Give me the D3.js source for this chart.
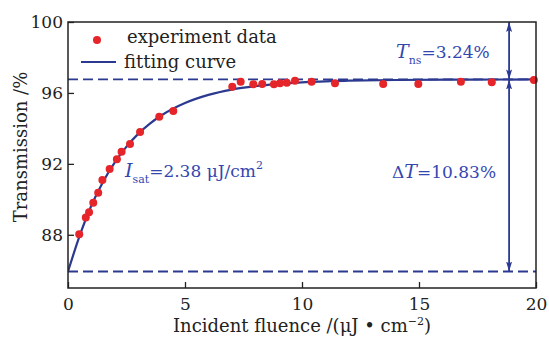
<!DOCTYPE html>
<html>
<head>
<meta charset="utf-8">
<script src="https://cdn.jsdelivr.net/npm/d3@7"></script>
<style>
  body { margin: 0; background: #fff; }
</style>
</head>
<body>
<svg id="chart" width="549" height="340"></svg>
<script>
// measured points (incident fluence, µJ/cm²)
const fluence = [0.48, 0.76, 0.90, 1.08, 1.29, 1.47, 1.78, 2.09, 2.29, 2.65, 3.08, 3.90, 4.50,
  7.02, 7.38, 7.92, 8.30, 8.80, 9.06, 9.35, 9.70, 10.41, 11.41, 13.47, 14.97, 16.79, 18.11, 19.91];
const transmission = [88.03, 88.98, 89.27, 89.81, 90.37, 91.09, 91.71, 92.26, 92.68, 93.12, 93.80, 94.66, 94.98,
  96.35, 96.63, 96.49, 96.50, 96.49, 96.54, 96.58, 96.69, 96.63, 96.54, 96.50, 96.50, 96.63, 96.60, 96.73];

// fitting curve
const fitFluence = [0, 0.5, 1, 1.5, 2, 2.5, 3, 3.5, 4, 5, 6, 7, 8, 9, 10, 12, 14, 17, 20];
const fitTransmission = [85.93, 87.95, 89.65, 90.99, 92.08, 92.97, 93.69, 94.27, 94.74, 95.43, 95.89, 96.19,
  96.38, 96.51, 96.60, 96.69, 96.73, 96.75, 96.76];

const xTicks = [0, 5, 10, 15, 20];
const yTicks = [88, 92, 96, 100];

const levelHigh = 96.76;   // saturated transmission
const levelLow = 85.93;    // linear transmission
const arrowAt = 18.85;

const blue = "#2b3990";
const textBlue = "#3347b0";
const red = "#e5252a";
const serif = "DejaVu Serif";

const svg = d3.select("#chart").attr("font-family", serif);
const margin = {top: 22, right: 13, bottom: 52, left: 68};
const width = 549 - margin.left - margin.right;
const height = 340 - margin.top - margin.bottom;

const x = d3.scaleLinear().domain([0, 20]).range([0, width]);
const y = d3.scaleLinear().domain([85, 100]).range([height, 0]);

const defs = svg.append("defs");
defs.append("clipPath").attr("id", "plot-clip")
  .append("rect").attr("width", width).attr("height", height);
defs.append("marker")
  .attr("id", "arrowhead")
  .attr("markerUnits", "userSpaceOnUse")
  .attr("viewBox", "0 0 10 6")
  .attr("refX", 10).attr("refY", 3)
  .attr("markerWidth", 10).attr("markerHeight", 6)
  .attr("orient", "auto-start-reverse")
  .append("path")
  .attr("d", "M0,0 L10,3 L0,6 L2,3 Z")
  .attr("fill", blue);

const g = svg.append("g").attr("transform", `translate(${margin.left},${margin.top})`);

// axes with inward ticks
const yAxis = g.append("g")
  .call(d3.axisLeft(y).tickValues(yTicks).tickSizeInner(-6).tickSizeOuter(0).tickPadding(5));
const xAxis = g.append("g").attr("transform", `translate(0,${height})`)
  .call(d3.axisBottom(x).tickValues(xTicks).tickSizeInner(-6).tickSizeOuter(0).tickPadding(10));
[xAxis, yAxis].forEach(a => {
  a.attr("font-family", serif).attr("font-size", 17);
  a.select(".domain").remove();
  a.selectAll("text").attr("fill", "#222");
  a.selectAll("line").attr("stroke", "#222").attr("stroke-width", 1.3);
});

const plot = g.append("g").attr("clip-path", "url(#plot-clip)");

// dashed reference levels
[levelHigh, levelLow].forEach(v => {
  plot.append("line")
    .attr("x1", 0).attr("x2", width)
    .attr("y1", y(v)).attr("y2", y(v))
    .attr("stroke", blue).attr("stroke-width", 1.8)
    .attr("stroke-dasharray", "10,5");
});

// fitting curve
const line = d3.line()
  .x((d, i) => x(fitFluence[i]))
  .y((d, i) => y(fitTransmission[i]))
  .curve(d3.curveMonotoneX);
plot.append("path")
  .datum(fitFluence)
  .attr("d", line)
  .attr("fill", "none")
  .attr("stroke", blue)
  .attr("stroke-width", 2.2);

// double arrows at the right
[[levelHigh, 100], [levelHigh, levelLow]].forEach(([a, b]) => {
  g.append("line")
    .attr("x1", x(arrowAt)).attr("x2", x(arrowAt))
    .attr("y1", y(a)).attr("y2", y(b))
    .attr("stroke", blue).attr("stroke-width", 1.8)
    .attr("marker-start", "url(#arrowhead)")
    .attr("marker-end", "url(#arrowhead)");
});

// data points
g.append("g").selectAll("circle")
  .data(fluence)
  .join("circle")
  .attr("cx", d => x(d))
  .attr("cy", (d, i) => y(transmission[i]))
  .attr("r", 4)
  .attr("fill", red);

// frame
g.append("rect")
  .attr("width", width).attr("height", height)
  .attr("fill", "none").attr("stroke", "#222").attr("stroke-width", 1.5);

// axis titles
svg.append("text")
  .attr("transform", "translate(27,147) rotate(-90)")
  .attr("text-anchor", "middle")
  .attr("font-size", 18).attr("fill", "#222")
  .text("Transmission /%");

const xt = svg.append("text")
  .attr("x", margin.left + width / 2).attr("y", 332)
  .attr("text-anchor", "middle")
  .attr("font-size", 18).attr("fill", "#222");
xt.append("tspan").text("Incident fluence /(μJ • cm");
xt.append("tspan").attr("font-size", 11).attr("dy", -7).text("−2");
xt.append("tspan").attr("dy", 7).text(")");

// legend
const legend = svg.append("g");
legend.append("circle").attr("cx", 97).attr("cy", 40).attr("r", 4).attr("fill", red);
legend.append("text").attr("x", 127).attr("y", 43).attr("font-size", 18).attr("fill", "#222")
  .text("experiment data");
legend.append("line").attr("x1", 81).attr("x2", 116).attr("y1", 62).attr("y2", 62)
  .attr("stroke", blue).attr("stroke-width", 2.2);
legend.append("text").attr("x", 124).attr("y", 68).attr("font-size", 18).attr("fill", "#222")
  .text("fitting curve");

// annotations
function note(px, py, main, sub, rest) {
  const t = svg.append("text").attr("x", px).attr("y", py)
    .attr("font-size", 17).attr("fill", textBlue);
  t.append("tspan").attr("font-style", "italic").attr("font-size", 19).text(main);
  if (sub) {
    t.append("tspan").attr("font-size", 11).attr("dy", 6).text(sub);
    t.append("tspan").attr("dy", -6).text(rest);
  } else {
    t.append("tspan").text(rest);
  }
  return t;
}
note(396, 58, "T", "ns", "=3.24%");
const isat = note(125, 177, "I", "sat", "=2.38 μJ/cm");
isat.append("tspan").attr("font-size", 11).attr("dy", -8).text("2");
const dt = svg.append("text").attr("x", 392).attr("y", 178).attr("font-size", 17).attr("fill", textBlue);
dt.append("tspan").text("Δ");
dt.append("tspan").attr("font-style", "italic").attr("font-size", 19).text("T");
dt.append("tspan").text("=10.83%");
</script>
</body>
</html>
